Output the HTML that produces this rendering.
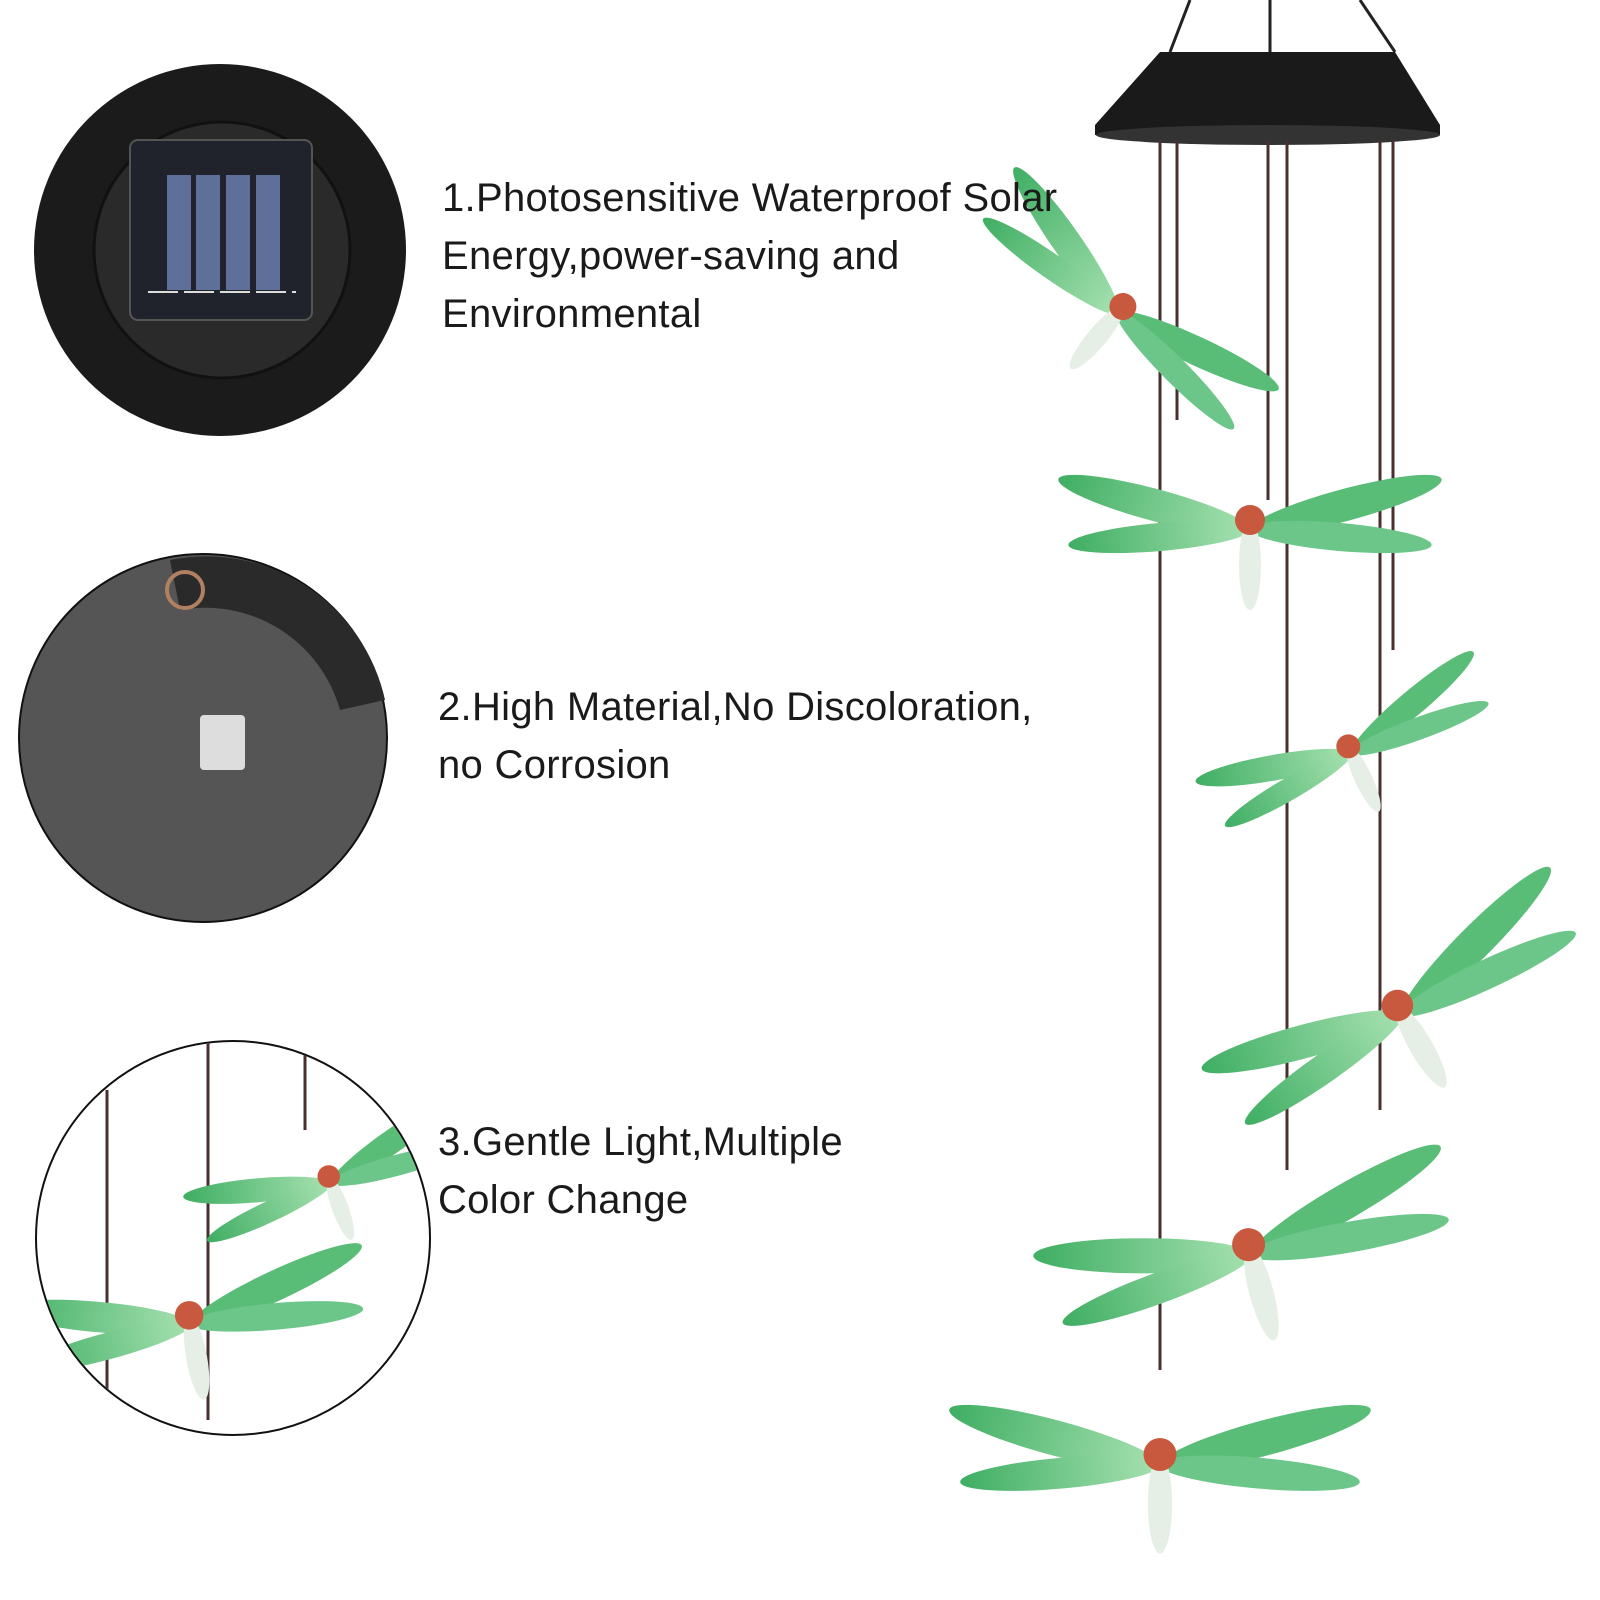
<!DOCTYPE html>
<html><head><meta charset="utf-8"><style>
body{margin:0;background:#fff;width:1600px;height:1600px;overflow:hidden;position:relative;font-family:"Liberation Sans",sans-serif}
.t{position:absolute;font-size:40px;line-height:58px;color:#1a1a1a;white-space:nowrap;letter-spacing:0.3px}
svg{position:absolute;left:0;top:0}
</style></head><body>
<svg width="1600" height="1600" viewBox="0 0 1600 1600">
<defs>
<linearGradient id="w" x1="0" x2="1"><stop offset="0" stop-color="#3fae63"/><stop offset="1" stop-color="#a8e2b2"/></linearGradient>
<clipPath id="c3"><circle cx="233" cy="1238" r="196"/></clipPath>
<g id="df">
<ellipse cx="-95" cy="-20" rx="100" ry="16" fill="url(#w)" transform="rotate(15 -95 -20)"/>
<ellipse cx="-90" cy="12" rx="92" ry="14" fill="url(#w)" transform="rotate(-5 -90 12)"/>
<ellipse cx="95" cy="-20" rx="100" ry="16" fill="#59bd78" transform="rotate(-15 95 -20)"/>
<ellipse cx="90" cy="12" rx="92" ry="14" fill="#6cc68a" transform="rotate(5 90 12)"/>
<ellipse cx="0" cy="40" rx="11" ry="45" fill="#e6efe6"/>
<circle cx="0" cy="-5" r="15" fill="#c8593f"/>
</g>
</defs>
<!-- circle 1 -->
<circle cx="220" cy="250" r="186" fill="#1b1b1b"/>
<circle cx="222" cy="250" r="128" fill="#2a2a2a" stroke="#111" stroke-width="3"/>
<rect x="130" y="140" width="182" height="180" rx="8" fill="#20232b" stroke="#555" stroke-width="2"/>
<g fill="#5e6f9a"><rect x="167" y="175" width="24" height="115"/><rect x="196" y="175" width="24" height="115"/><rect x="226" y="175" width="24" height="115"/><rect x="256" y="175" width="24" height="115"/></g>
<line x1="148" y1="292" x2="296" y2="292" stroke="#ddd" stroke-width="2" stroke-dasharray="30 6"/>
<!-- circle 2 -->
<circle cx="203" cy="738" r="184" fill="#555" stroke="#111" stroke-width="2"/>
<path d="M170 560 A183 183 0 0 1 385 700 L340 710 A140 140 0 0 0 180 610 Z" fill="#2a2a2a"/>
<rect x="200" y="715" width="45" height="55" rx="4" fill="#ddd"/>
<circle cx="185" cy="590" r="18" fill="none" stroke="#b08060" stroke-width="4"/>
<!-- circle 3 -->
<circle cx="233" cy="1238" r="197" fill="#fff" stroke="#111" stroke-width="2"/>
<g clip-path="url(#c3)">
<g stroke="#4a2f2f" stroke-width="3"><line x1="107" y1="1090" x2="107" y2="1390"/><line x1="208" y1="1043" x2="208" y2="1420"/><line x1="305" y1="1055" x2="305" y2="1130"/></g>
<use href="#df" transform="translate(330 1180) scale(0.75) rotate(-20)"/>
<use href="#df" transform="translate(190 1320) scale(0.95) rotate(-10)"/>
</g>
<!-- lamp -->
<g stroke="#222" stroke-width="3"><line x1="1170" y1="52" x2="1190" y2="0"/><line x1="1270" y1="52" x2="1270" y2="0"/><line x1="1395" y1="52" x2="1360" y2="0"/></g>
<path d="M1160 52 L1395 52 L1440 125 L1440 135 L1095 135 L1095 125 Z" fill="#1a1a1a"/>
<ellipse cx="1268" cy="135" rx="172" ry="10" fill="#333"/>
<g stroke="#4a2f2f" stroke-width="3"><line x1="1160" y1="140" x2="1160" y2="1370"/><line x1="1177" y1="140" x2="1177" y2="420"/><line x1="1268" y1="140" x2="1268" y2="500"/><line x1="1287" y1="140" x2="1287" y2="1170"/><line x1="1380" y1="140" x2="1380" y2="1110"/><line x1="1393" y1="140" x2="1393" y2="650"/></g>
<use href="#df" transform="translate(1120 310) scale(0.9) rotate(40)"/>
<use href="#df" transform="translate(1250 525)"/>
<use href="#df" transform="translate(1350 750) scale(0.8) rotate(-25)"/>
<use href="#df" transform="translate(1400 1010) scale(1.05) rotate(-30)"/>
<use href="#df" transform="translate(1250 1250) scale(1.1) rotate(-15)"/>
<use href="#df" transform="translate(1160 1460) scale(1.1)"/>
</svg>
<div class="t" style="left:442px;top:169px">1.Photosensitive Waterproof Solar<br>Energy,power-saving and<br>Environmental</div>
<div class="t" style="left:438px;top:678px">2.High Material,No Discoloration,<br>no Corrosion</div>
<div class="t" style="left:438px;top:1113px">3.Gentle Light,Multiple<br>Color Change</div>
</body></html>
